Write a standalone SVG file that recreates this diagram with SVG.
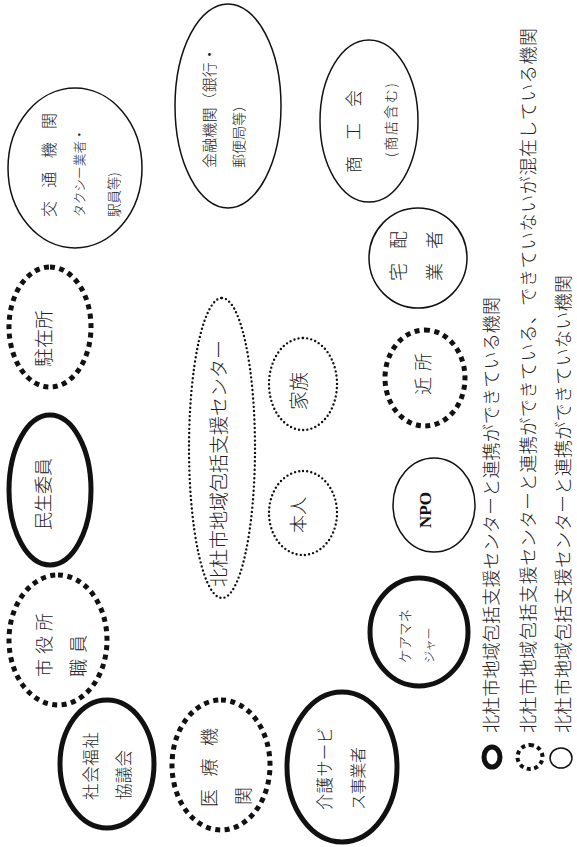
<svg xmlns="http://www.w3.org/2000/svg" width="577" height="847" viewBox="0 0 577 847">
<style>
.bold{fill:none;stroke:#111;stroke-width:5}
.sq{fill:none;stroke:#111;stroke-width:5;stroke-dasharray:5 4.5}
.thin{fill:none;stroke:#111;stroke-width:1.5}
.fine{fill:none;stroke:#111;stroke-width:2.4;stroke-dasharray:0 4.2;stroke-linecap:round}
text{font-family:"Noto Sans CJK JP","Noto Sans CJK SC",sans-serif;font-weight:300;fill:#222;dominant-baseline:central}
.npo{font-family:"Liberation Serif",serif;font-weight:bold;font-size:17px;fill:#111;text-anchor:middle}
</style>
<rect width="577" height="847" fill="#fff"/>
<g transform="translate(0,847) rotate(-90)">
<g id="shakai-fukushi">
<ellipse class="bold" cx="83" cy="107" rx="64" ry="47"/>
<text x="47" y="90" font-size="16.5" textLength="68" lengthAdjust="spacing">社会福祉</text>
<text x="47" y="123" font-size="16.5" textLength="50" lengthAdjust="spacing">協議会</text>
</g>
<g id="shiyakusho">
<ellipse class="sq" cx="207" cy="58" rx="65" ry="49"/>
<text x="170" y="43" font-size="18" textLength="64" lengthAdjust="spacing">市役所</text>
<text x="170" y="77" font-size="18" textLength="42" lengthAdjust="spacing">職員</text>
</g>
<g id="minsei">
<ellipse class="bold" cx="357" cy="50" rx="75" ry="41"/>
<text x="317" y="42" font-size="18" textLength="72" lengthAdjust="spacing">民生委員</text>
</g>
<g id="chuzaisho">
<ellipse class="sq" cx="520" cy="50" rx="60" ry="41"/>
<text x="480" y="42" font-size="19" textLength="57" lengthAdjust="spacing">駐在所</text>
</g>
<g id="kotsu">
<ellipse class="thin" cx="679" cy="75" rx="80" ry="67"/>
<text x="630" y="48" font-size="16" textLength="104" lengthAdjust="spacing">交通機関</text>
<text x="630" y="78" font-size="12.7">タクシー業者・</text>
<text x="630" y="113" font-size="13.5">駅員等)</text>
</g>
<g id="kinyu">
<ellipse class="thin" cx="741" cy="228" rx="102" ry="53"/>
<text x="679" y="208" font-size="15" textLength="121" lengthAdjust="spacing">金融機関（銀行・</text>
<text x="679" y="238" font-size="14">郵便局等）</text>
</g>
<g id="shokokai">
<ellipse class="thin" cx="726" cy="369" rx="81" ry="49"/>
<text x="674" y="352" font-size="17" textLength="83" lengthAdjust="spacing">商工会</text>
<text x="690" y="390" font-size="14" textLength="74" lengthAdjust="spacing">(商店含む)</text>
</g>
<g id="takuhai">
<ellipse class="thin" cx="589" cy="418" rx="50" ry="49"/>
<text x="566" y="397" font-size="18" textLength="50" lengthAdjust="spacing">宅配</text>
<text x="566" y="433" font-size="18" textLength="50" lengthAdjust="spacing">業者</text>
</g>
<g id="kinjo">
<ellipse class="sq" cx="469" cy="425" rx="48" ry="40"/>
<text x="452" y="422" font-size="18" textLength="42" lengthAdjust="spacing">近所</text>
</g>
<g id="npo">
<ellipse class="thin" cx="342" cy="434" rx="47" ry="41"/>
<text class="npo" x="337" y="425">NPO</text>
</g>
<g id="caremanager">
<ellipse class="bold" cx="215" cy="419" rx="54" ry="49"/>
<text x="184" y="404" font-size="13.5">ケアマネ</text>
<text x="184" y="428" font-size="12">ジャー</text>
</g>
<g id="kaigo">
<ellipse class="bold" cx="80" cy="342" rx="75" ry="55"/>
<text x="37" y="324" font-size="16.5" textLength="83" lengthAdjust="spacing">介護サービ</text>
<text x="37" y="357" font-size="16" textLength="63" lengthAdjust="spacing">ス事業者</text>
</g>
<g id="iryo">
<ellipse class="sq" cx="82" cy="221" rx="65" ry="49"/>
<text x="40" y="208" font-size="18" textLength="79" lengthAdjust="spacing">医療機</text>
<text x="42" y="242" font-size="18">関</text>
</g>
<g id="center">
<ellipse class="fine" cx="399" cy="222" rx="150" ry="33"/>
<text x="260" y="217" font-size="19" textLength="247" lengthAdjust="spacing">北杜市地域包括支援センター</text>
</g>
<g id="kazoku">
<ellipse class="fine" cx="463" cy="303" rx="46" ry="34"/>
<text x="437" y="297" font-size="19" textLength="38" lengthAdjust="spacing">家族</text>
</g>
<g id="honnin">
<ellipse class="fine" cx="334" cy="303" rx="42" ry="34"/>
<text x="314" y="297" font-size="18" textLength="36" lengthAdjust="spacing">本人</text>
</g>
<g id="connectors"></g>
<g id="legend">
<ellipse class="bold" cx="90" cy="492" rx="10" ry="8"/>
<ellipse class="sq" cx="90" cy="530" rx="12" ry="12.5" style="stroke-width:4;stroke-dasharray:4 3.5"/>
<ellipse class="thin" cx="89" cy="561" rx="10" ry="11"/>
<text x="114" y="490" font-size="18" textLength="436" lengthAdjust="spacing">北杜市地域包括支援センターと連携ができている機関</text>
<text x="114" y="527" font-size="18" textLength="705" lengthAdjust="spacing">北杜市地域包括支援センターと連携ができている、できていないが混在している機関</text>
<text x="114" y="562" font-size="18" textLength="458" lengthAdjust="spacing">北杜市地域包括支援センターと連携ができていない機関</text>
</g>
</g>
</svg>
